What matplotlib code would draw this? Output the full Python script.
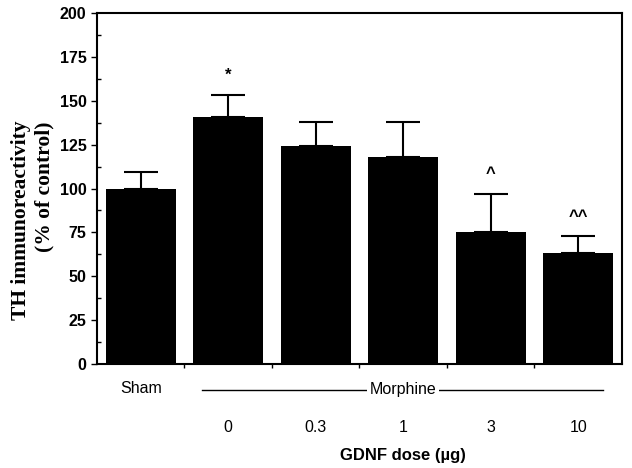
import matplotlib
matplotlib.use("Agg")
import matplotlib.pyplot as plt
import matplotlib.transforms as mtransforms
from matplotlib.ticker import MultipleLocator

groups = ["Sham", "0", "0.3", "1", "3", "10"]
th_values = [100, 141, 124, 118, 75, 63]
th_errors = [9.5, 12, 14, 20, 22, 10]
marks = ["", "*", "", "", "^", "^^"]
yticks = [0, 25, 50, 75, 100, 125, 150, 175, 200]

sans = "Liberation Sans"
serif = "Liberation Serif"

fig = plt.figure(figsize=(6.32, 4.68), dpi=100)
ax = fig.add_axes([0.1535, 0.2222, 0.8305, 0.75])

x = list(range(len(groups)))
ax.bar(x, th_values, width=0.8, color="black", zorder=2)
ax.errorbar(x, th_values, yerr=[[0] * len(x), th_errors], fmt="none",
            ecolor="black", elinewidth=1.5, capsize=12, capthick=1.5, zorder=1)

for xi, v, e, m in zip(x, th_values, th_errors, marks):
    if m:
        ax.text(xi, v + e + 7, m, ha="center", va="bottom",
                fontsize=12, fontweight="bold", family=sans)

ax.set_xlim(-0.5, 5.5)
ax.set_ylim(0, 200)
ax.set_yticks(yticks)
ax.yaxis.set_minor_locator(MultipleLocator(12.5))
ax.set_yticklabels([str(t) for t in yticks], fontsize=11.5, fontweight="bold", family=sans)
ax.tick_params(axis="y", which="major", direction="out", length=4, width=1)
ax.tick_params(axis="y", which="minor", direction="in", length=3, width=1)

ax.set_xticks([0.5, 1.5, 2.5, 3.5, 4.5])
ax.set_xticklabels([])
ax.tick_params(axis="x", direction="out", length=3, width=1)

for sp in ax.spines.values():
    sp.set_linewidth(1.5)

trans = mtransforms.blended_transform_factory(ax.transData, ax.transAxes)

# group labels below the axis
ax.text(0, -0.07, groups[0], transform=trans, ha="center", va="center",
        fontsize=11.5, family=sans)
ax.plot([0.7, 5.28], [-0.074, -0.074], transform=trans, color="black",
        lw=1, clip_on=False)
ax.text(3, -0.074, "Morphine", transform=trans, ha="center", va="center",
        fontsize=11.5, family=sans,
        bbox=dict(facecolor="white", edgecolor="none", pad=2))
for xi, g in zip(x[1:], groups[1:]):
    ax.text(xi, -0.18, g, transform=trans, ha="center", va="center",
            fontsize=11.5, family=sans)
ax.text(3, -0.26, "GDNF dose (\u00b5g)", transform=trans, ha="center",
        va="center", fontsize=12, fontweight="bold", family=sans)

fig.text(21 / 632, 1 - 220 / 468, "TH immunoreactivity", rotation=90,
         ha="center", va="center", fontsize=15.5, fontweight="bold", family=serif)
fig.text(44 / 632, 1 - 187 / 468, "(% of control)", rotation=90,
         ha="center", va="center", fontsize=15.5, fontweight="bold", family=serif)

fig.savefig("out.png", dpi=100)
